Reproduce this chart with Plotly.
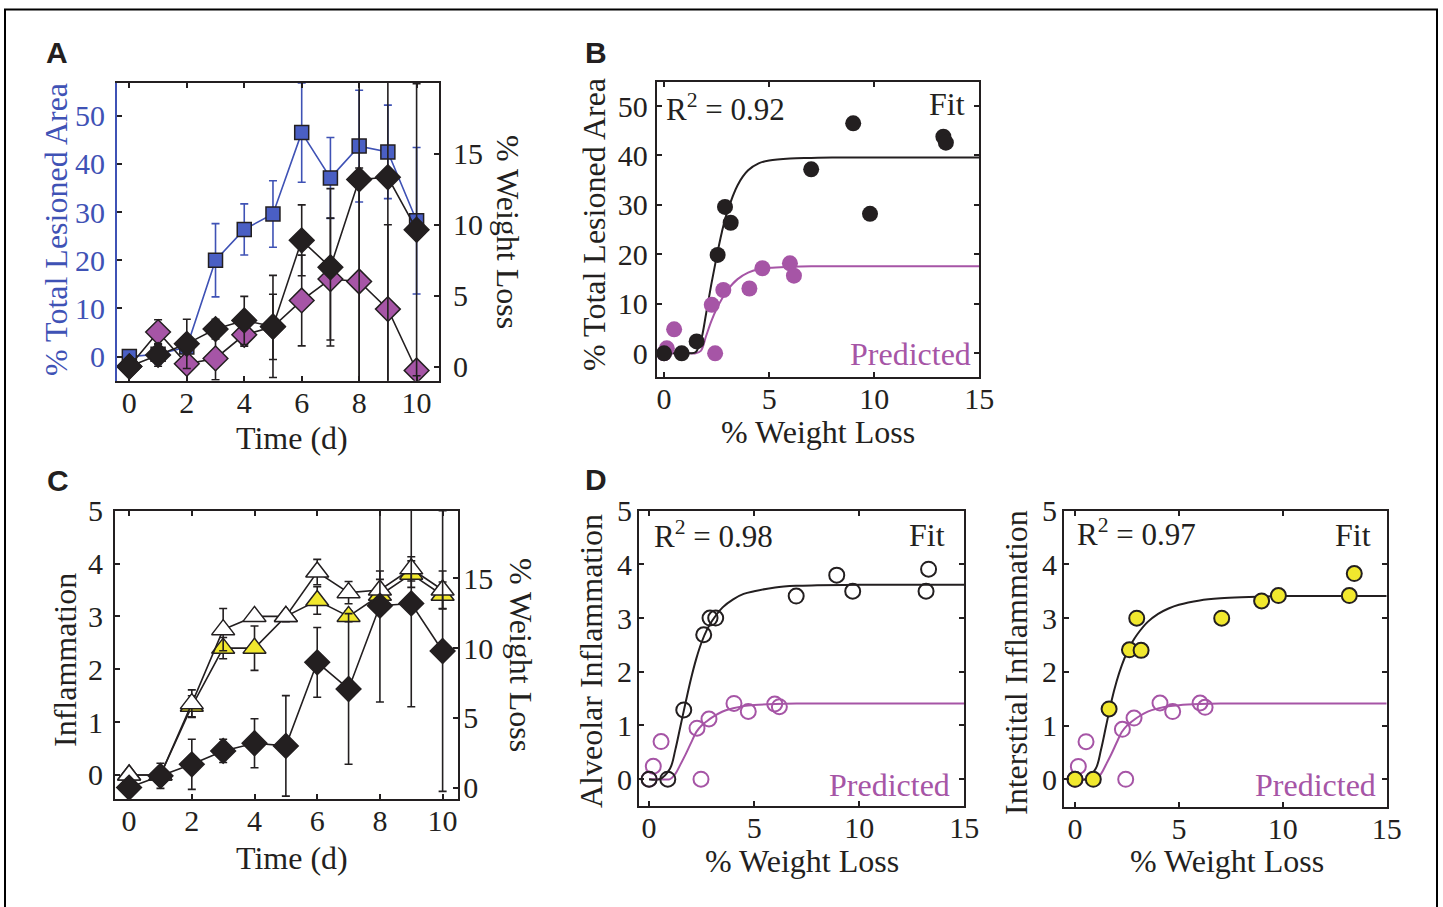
import plotly.graph_objects as go

# ---------------- data ----------------
days = [0, 1, 2, 3, 4, 5, 6, 7, 8, 9, 10]

# Panel A
A_lesion = [0, 0.5, 2, 20, 26.4, 29.6, 46.5, 37.1, 43.7, 42.5, 28.2]
A_lesion_err = [0.5, 2, 1, 7.6, 5.3, 6.9, 10.3, 8.4, 11.6, 9.7, 15.2]
A_wl = [0, 0.82, 1.6, 2.64, 3.25, 2.83, 8.9, 7.0, 13.2, 13.35, 9.65]
A_wl_err = [0.2, 0.8, 1.74, 0.7, 1.7, 3.6, 2.5, 5.55, 15, 14.5, 10.3]
A_wl2 = [0, 2.43, 0.19, 0.57, 2.24, 2.8, 4.66, 6.17, 6.0, 4.05, -0.28]
A_wl2_err = [0.2, 0.87, 0.3, 1.5, 0.8, 2.3, 3.2, 4.3, 8, 5.95, 0.5]

# Panel B
B_fit_x = [0, 0.84, 1.55, 2.55, 2.9, 3.17, 7.0, 9.0, 9.8, 13.29, 13.41]
B_fit_y = [0, 0, 2.4, 19.9, 29.6, 26.4, 37.2, 46.5, 28.2, 43.8, 42.6]
B_pred_x = [0, 0.13, 0.48, 2.27, 2.43, 2.82, 4.06, 4.68, 5.99, 6.18]
B_pred_y = [0, 1.0, 4.85, 9.8, 0, 12.8, 13.1, 17.2, 18.2, 15.7]
curve_x = [0, 0.5, 1.0, 1.25, 1.5, 1.75, 2.0, 2.25, 2.5, 2.75, 3.0, 3.5, 4.0, 4.5, 5.0, 6.0, 7.0, 8.0, 10.0, 12.0, 15.0]
B_fit_curve = [0, 0, 0, 0, 0.2, 2.5, 8, 14, 19.5, 24.5, 28.5, 34, 37, 38.4, 39.0, 39.4, 39.5, 39.6, 39.6, 39.6, 39.6]
B_pred_curve = [0, 0, 0, 0, 0, 0.5, 3.5, 6.5, 9.0, 11.0, 12.7, 15.0, 16.3, 17.0, 17.3, 17.5, 17.6, 17.6, 17.6, 17.6, 17.6]

# Panel C
C_alv = [0, 0, 1.35, 2.75, 3.0, 3.0, 3.84, 3.45, 3.5, 3.9, 3.5]
C_alv_err = [0.05, 0.1, 0.26, 0.4, 0.03, 0.03, 0.24, 0.21, 0.36, 0.23, 0.36]
C_int = [0, 0, 1.3, 2.4, 2.4, 3.0, 3.3, 3.0, 3.4, 3.8, 3.4]
C_int_err = [0.02, 0.1, 0.2, 0.2, 0.42, 0.1, 0.26, 0.1, 0.3, 0.25, 0.25]
C_wl = [0, 0.84, 1.67, 2.63, 3.18, 2.99, 8.98, 7.07, 13.04, 13.2, 9.79]
C_wl_err = [0.1, 0.9, 1.8, 0.83, 1.76, 3.6, 2.5, 5.4, 6.9, 7.4, 10.06]

# Panel D (alveolar)
D1_fit_x = [0, 0.89, 1.65, 2.6, 2.9, 3.17, 7.0, 8.93, 9.69, 13.18, 13.3]
D1_fit_y = [0, 0, 1.29, 2.69, 3.0, 3.0, 3.41, 3.8, 3.5, 3.5, 3.91]
D1_pred_x = [0, 0.2, 0.57, 2.28, 2.47, 2.85, 4.04, 4.72, 5.98, 6.2]
D1_pred_y = [0, 0.24, 0.7, 0.95, 0, 1.12, 1.41, 1.26, 1.4, 1.35]
D1_fit_curve = [0, 0, 0.2, 0.55, 1.0, 1.45, 1.88, 2.25, 2.55, 2.78, 2.95, 3.2, 3.35, 3.45, 3.5, 3.57, 3.6, 3.61, 3.62, 3.62, 3.62]
D_pred_curve = [0, 0, 0, 0.1, 0.28, 0.47, 0.68, 0.88, 1.0, 1.08, 1.15, 1.26, 1.32, 1.36, 1.38, 1.4, 1.41, 1.41, 1.41, 1.41, 1.41]

# Panel D (interstitial)
D2_fit_x = [0, 0.88, 1.64, 2.62, 2.97, 3.18, 7.06, 8.98, 9.79, 13.2, 13.44]
D2_fit_y = [0, 0, 1.31, 2.41, 3.0, 2.4, 3.0, 3.32, 3.42, 3.42, 3.83]
D2_pred_x = [0, 0.16, 0.53, 2.28, 2.44, 2.84, 4.09, 4.7, 6.02, 6.26]
D2_pred_y = [0, 0.24, 0.7, 0.93, 0, 1.14, 1.42, 1.26, 1.42, 1.34]
D2_fit_curve = [0, 0, 0.2, 0.55, 1.0, 1.45, 1.82, 2.12, 2.36, 2.55, 2.7, 2.93, 3.08, 3.18, 3.25, 3.33, 3.37, 3.39, 3.41, 3.41, 3.41]

# ---------------- style ----------------
W, H = 1443, 907
SERIF = "Liberation Serif"
SANS = "Liberation Sans"
INK = "#231f20"
BLUE = "#3f52b5"
BLUE_FILL = "#4a5fc4"
PURPLE = "#a655a6"
YELLOW = "#f1e82e"
TICK = 30
TITLE = 32


def fx(p):
    return p / W


def fy(p):
    return 1 - p / H


def err(arr, color=INK):
    return dict(type="data", array=arr, color=color, thickness=1.6, width=4)


fig = go.Figure()

# ---- Panel A ----
fig.add_trace(go.Scatter(x=days, y=A_lesion, error_y=err(A_lesion_err, BLUE), mode="lines+markers",
                         line=dict(color=BLUE, width=1.6),
                         marker=dict(symbol="square", size=14, color=BLUE_FILL, line=dict(color=INK, width=1.5)),
                         xaxis="x", yaxis="y"))
fig.add_trace(go.Scatter(x=days, y=A_wl2, error_y=err(A_wl2_err), mode="lines+markers",
                         line=dict(color=INK, width=1.6),
                         marker=dict(symbol="diamond", size=19, color=PURPLE, line=dict(color=INK, width=1.5)),
                         xaxis="x", yaxis="y2"))
fig.add_trace(go.Scatter(x=days, y=A_wl, error_y=err(A_wl_err), mode="lines+markers",
                         line=dict(color=INK, width=1.6),
                         marker=dict(symbol="diamond", size=19, color=INK, line=dict(color=INK, width=1.5)),
                         xaxis="x", yaxis="y2"))

# ---- Panel B ----
fig.add_trace(go.Scatter(x=curve_x, y=B_pred_curve, mode="lines", line=dict(color=PURPLE, width=2, shape="spline"),
                         xaxis="x2", yaxis="y3"))
fig.add_trace(go.Scatter(x=curve_x, y=B_fit_curve, mode="lines", line=dict(color=INK, width=2, shape="spline"),
                         xaxis="x2", yaxis="y3"))
fig.add_trace(go.Scatter(x=B_pred_x, y=B_pred_y, mode="markers",
                         marker=dict(symbol="circle", size=16, color=PURPLE, line=dict(width=0)),
                         xaxis="x2", yaxis="y3"))
fig.add_trace(go.Scatter(x=B_fit_x, y=B_fit_y, mode="markers",
                         marker=dict(symbol="circle", size=16, color=INK, line=dict(width=0)),
                         xaxis="x2", yaxis="y3"))

# ---- Panel C ----
fig.add_trace(go.Scatter(x=days, y=C_int, error_y=err(C_int_err), mode="lines+markers",
                         line=dict(color=INK, width=1.6),
                         marker=dict(symbol="triangle-up", size=20, color=YELLOW, line=dict(color=INK, width=1.5)),
                         xaxis="x3", yaxis="y4"))
fig.add_trace(go.Scatter(x=days, y=C_alv, error_y=err(C_alv_err), mode="lines+markers",
                         line=dict(color=INK, width=1.6),
                         marker=dict(symbol="triangle-up", size=20, color="white", line=dict(color=INK, width=1.5)),
                         xaxis="x3", yaxis="y4"))
fig.add_trace(go.Scatter(x=days, y=C_wl, error_y=err(C_wl_err), mode="lines+markers",
                         line=dict(color=INK, width=1.6),
                         marker=dict(symbol="diamond", size=19, color=INK, line=dict(color=INK, width=1.5)),
                         xaxis="x3", yaxis="y5"))

# ---- Panel D alveolar ----
fig.add_trace(go.Scatter(x=curve_x, y=D_pred_curve, mode="lines", line=dict(color=PURPLE, width=2, shape="spline"),
                         xaxis="x4", yaxis="y6"))
fig.add_trace(go.Scatter(x=curve_x, y=D1_fit_curve, mode="lines", line=dict(color=INK, width=2, shape="spline"),
                         xaxis="x4", yaxis="y6"))
fig.add_trace(go.Scatter(x=D1_pred_x, y=D1_pred_y, mode="markers",
                         marker=dict(symbol="circle-open", size=15, color=PURPLE, line=dict(color=PURPLE, width=2)),
                         xaxis="x4", yaxis="y6"))
fig.add_trace(go.Scatter(x=D1_fit_x, y=D1_fit_y, mode="markers",
                         marker=dict(symbol="circle-open", size=15, color=INK, line=dict(color=INK, width=2)),
                         xaxis="x4", yaxis="y6"))

# ---- Panel D interstitial ----
fig.add_trace(go.Scatter(x=curve_x, y=D_pred_curve, mode="lines", line=dict(color=PURPLE, width=2, shape="spline"),
                         xaxis="x5", yaxis="y7"))
fig.add_trace(go.Scatter(x=curve_x, y=D2_fit_curve, mode="lines", line=dict(color=INK, width=2, shape="spline"),
                         xaxis="x5", yaxis="y7"))
fig.add_trace(go.Scatter(x=D2_pred_x, y=D2_pred_y, mode="markers",
                         marker=dict(symbol="circle-open", size=15, color=PURPLE, line=dict(color=PURPLE, width=2)),
                         xaxis="x5", yaxis="y7"))
fig.add_trace(go.Scatter(x=D2_fit_x, y=D2_fit_y, mode="markers",
                         marker=dict(symbol="circle", size=15, color=YELLOW, line=dict(color=INK, width=2)),
                         xaxis="x5", yaxis="y7"))


def ax(**kw):
    base = dict(showline=True, linecolor=INK, linewidth=2, ticks="inside", ticklen=5, tickwidth=1.5,
                tickcolor=INK, showgrid=False, zeroline=False, fixedrange=True, automargin=False,
                tickfont=dict(family=SERIF, size=TICK, color=INK))
    base.update(kw)
    return base


XSTAND = -6

fig.update_layout(
    template="none",
    width=W, height=H, margin=dict(l=0, r=0, t=0, b=0, autoexpand=False),
    paper_bgcolor="white", plot_bgcolor="white", showlegend=False,
    # Panel A
    xaxis=ax(domain=[fx(117), fx(439)], anchor="y", range=[-0.43, 10.78], tickvals=[0, 2, 4, 6, 8, 10],
             mirror="ticks", ticklabelstandoff=XSTAND),
    yaxis=ax(domain=[fy(380.7), fy(83)], anchor="x", range=[-5, 56.8], tickvals=[0, 10, 20, 30, 40, 50],
             linecolor=BLUE, tickcolor=INK, tickfont=dict(family=SERIF, size=TICK, color=BLUE),
             ticklabelstandoff=4),
    yaxis2=ax(overlaying="y", side="right", anchor="x", range=[-1, 20], tickvals=[0, 5, 10, 15],
              ticklabelstandoff=6),
    # Panel B
    xaxis2=ax(domain=[fx(656.7), fx(979.3)], anchor="y3", range=[-0.35, 15], tickvals=[0, 5, 10, 15],
              mirror="ticks", ticklabelstandoff=XSTAND),
    yaxis3=ax(domain=[fy(377.3), fy(82.3)], anchor="x2", range=[-4.85, 54.8], tickvals=[0, 10, 20, 30, 40, 50],
              mirror="ticks", ticklabelstandoff=1),
    # Panel C
    xaxis3=ax(domain=[fx(115), fx(458.3)], anchor="y4", range=[-0.45, 10.5], tickvals=[0, 2, 4, 6, 8, 10],
              mirror="ticks", ticklabelstandoff=XSTAND),
    yaxis4=ax(domain=[fy(799.3), fy(510.7)], anchor="x3", range=[-0.46, 5], tickvals=[0, 1, 2, 3, 4, 5],
              ticklabelstandoff=4),
    yaxis5=ax(overlaying="y4", side="right", anchor="x3", range=[-0.84, 19.85], tickvals=[0, 5, 10, 15],
              ticklabelstandoff=-3),
    # Panel D alveolar
    xaxis4=ax(domain=[fx(639), fx(964.3)], anchor="y6", range=[-0.48, 15], tickvals=[0, 5, 10, 15],
              mirror="ticks", ticklabelstandoff=XSTAND),
    yaxis6=ax(domain=[fy(806), fy(510.7)], anchor="x4", range=[-0.5, 5], tickvals=[0, 1, 2, 3, 4, 5],
              mirror="ticks", ticklabelstandoff=-1),
    # Panel D interstitial
    xaxis5=ax(domain=[fx(1064), fx(1386.7)], anchor="y7", range=[-0.53, 15], tickvals=[0, 5, 10, 15],
              mirror="ticks", ticklabelstandoff=XSTAND),
    yaxis7=ax(domain=[fy(806.7), fy(510.7)], anchor="x5", range=[-0.51, 5], tickvals=[0, 1, 2, 3, 4, 5],
              mirror="ticks", ticklabelstandoff=-1),
)

annotations = []


def txt(text, x, y, size=TITLE, color=INK, angle=0, xanchor="center", family=SERIF, bold=False):
    annotations.append(dict(text=("<b>%s</b>" % text) if bold else text, x=fx(x), y=fy(y),
                            xref="paper", yref="paper", showarrow=False, textangle=angle,
                            xanchor=xanchor, yanchor="middle",
                            font=dict(family=family, size=size, color=color)))


# panel letters
txt("A", 57, 52, size=30, family=SANS, bold=True)
txt("B", 596, 53, size=30, family=SANS, bold=True)
txt("C", 58, 480, size=30, family=SANS, bold=True)
txt("D", 596, 479, size=30, family=SANS, bold=True)

# axis titles
txt("% Total Lesioned Area", 56, 230, color=BLUE, angle=-90)
txt("% Weight Loss", 508, 232, angle=90)
txt("Time (d)", 292, 438)
txt("% Total Lesioned Area", 594, 225, angle=-90)
txt("% Weight Loss", 818, 432)
txt("Inflammation", 65, 660, angle=-90)
txt("% Weight Loss", 521, 655, angle=90)
txt("Time (d)", 292, 858)
txt("Alveolar Inflammation", 591, 661, angle=-90)
txt("% Weight Loss", 802, 861)
txt("Interstital Inflammation", 1016, 663, angle=-90)
txt("% Weight Loss", 1227, 861)

# in-panel labels
txt("R<sup>2</sup> = 0.92", 664, 107, xanchor="left", size=31)
txt("Fit", 967, 104, xanchor="right", size=32)
txt("Predicted", 973, 354, xanchor="right", size=32, color=PURPLE)
txt("R<sup>2</sup> = 0.98", 652, 534, xanchor="left", size=31)
txt("Fit", 947, 535, xanchor="right", size=32)
txt("Predicted", 952, 785, xanchor="right", size=32, color=PURPLE)
txt("R<sup>2</sup> = 0.97", 1075, 532, xanchor="left", size=31)
txt("Fit", 1373, 535, xanchor="right", size=32)
txt("Predicted", 1378, 785, xanchor="right", size=32, color=PURPLE)

fig.update_layout(annotations=annotations)

# outer frame
fig.add_shape(type="rect", xref="paper", yref="paper", x0=fx(5), x1=fx(1437), y0=-0.02, y1=fy(9.5),
              line=dict(color="black", width=2), fillcolor="rgba(0,0,0,0)")

fig.write_html("out.html")
